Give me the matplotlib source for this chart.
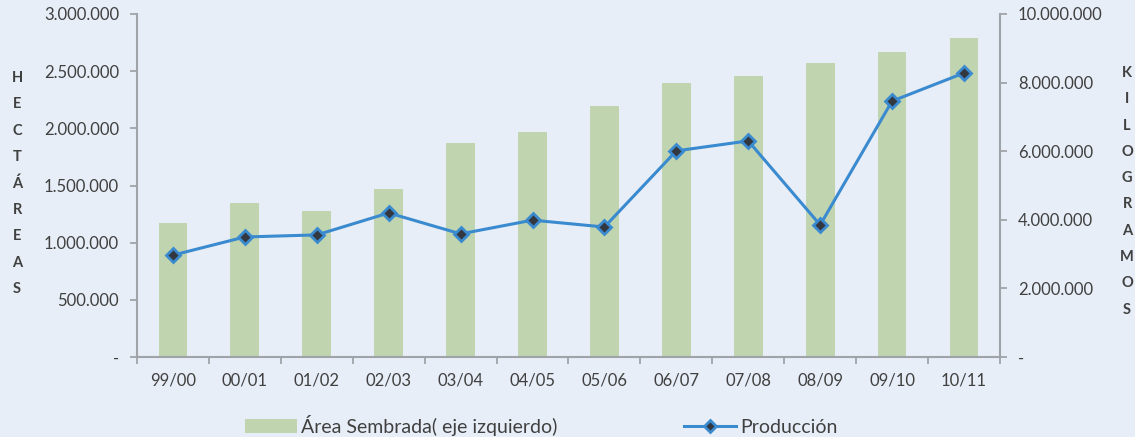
import matplotlib.pyplot as plt
from matplotlib.ticker import FuncFormatter

# Datos
campanas = ['99/00', '00/01', '01/02', '02/03', '03/04', '04/05',
            '05/06', '06/07', '07/08', '08/09', '09/10', '10/11']
area_sembrada = [1172000, 1347000, 1277000, 1469000, 1872000, 1968000,
                 2195000, 2397000, 2458000, 2571000, 2668000, 2790000]
produccion = [2970000, 3500000, 3560000, 4200000, 3590000, 3990000,
              3790000, 6010000, 6300000, 3850000, 7460000, 8280000]

fondo = '#E8EEF7'
gris = '#A0A3A8'
texto = '#404040'
plt.rcParams['font.family'] = ['Lato', 'DejaVu Sans']


def miles(v, pos):
    if v == 0:
        return '-'
    return f'{int(v):,}'.replace(',', '.')


fig = plt.figure(figsize=(11.35, 4.37), dpi=100, facecolor=fondo)
ax = fig.add_axes([0.1207, 0.183, 0.7603, 0.785], facecolor=fondo)
ax2 = ax.twinx()

x = range(len(campanas))
barras = ax.bar(x, area_sembrada, width=0.4, color='#C0D4B0', zorder=2,
                label='Área Sembrada( eje izquierdo)')
linea, = ax2.plot(x, produccion, color='#3A8AD0', lw=2.2, marker='D', ms=7,
                  markerfacecolor='#333740', markeredgecolor='#3A8AD0', mew=2,
                  label='Producción', zorder=3)

ax.set_xlim(-0.5, len(campanas) - 0.5)
ax.set_ylim(0, 3000000)
ax2.set_ylim(0, 10000000)
ax.set_yticks(range(0, 3000001, 500000))
ax2.set_yticks(range(0, 10000001, 2000000))
ax.yaxis.set_major_formatter(FuncFormatter(miles))
ax2.yaxis.set_major_formatter(FuncFormatter(miles))
ax.set_xticks(list(x))
ax.set_xticklabels(campanas)
ax.set_xticks([i + 0.5 for i in range(-1, len(campanas))], minor=True)
ax.tick_params(axis='x', which='major', length=0, pad=11)
ax.tick_params(axis='x', which='minor', length=5, color=gris, width=1.3)

for a in (ax, ax2):
    for s in a.spines.values():
        s.set_visible(False)
    a.tick_params(axis='y', length=5, color=gris, width=1.3, labelsize=12,
                  labelcolor=texto, pad=8)
ax.tick_params(axis='x', labelsize=12, labelcolor=texto)
ax.spines['left'].set_visible(True)
ax.spines['bottom'].set_visible(True)
ax2.spines['right'].set_visible(True)
for s in (ax.spines['left'], ax.spines['bottom'], ax2.spines['right']):
    s.set_color(gris)
    s.set_linewidth(1.5)

# Etiquetas verticales letra por letra
for i, letra in enumerate('HECTÁREAS'):
    fig.text(17 / 1135, 1 - (78 + i * 26.4) / 437, letra, ha='center',
             va='center', fontsize=10.5, fontweight='bold', color=texto)
for i, letra in enumerate('KILOGRAMOS'):
    fig.text(1127 / 1135, 1 - (73 + i * 26.3) / 437, letra, ha='center',
             va='center', fontsize=10.5, fontweight='bold', color=texto)

fig.legend([barras, linea], ['Área Sembrada( eje izquierdo)', 'Producción'],
           loc='center', bbox_to_anchor=(0.4767, 0.027), ncol=2, frameon=False,
           fontsize=14, labelcolor=texto, columnspacing=6.5, handlelength=2.7,
           handletextpad=0.2, markerscale=0.85)

plt.savefig('out.png', dpi=100, facecolor=fondo)
